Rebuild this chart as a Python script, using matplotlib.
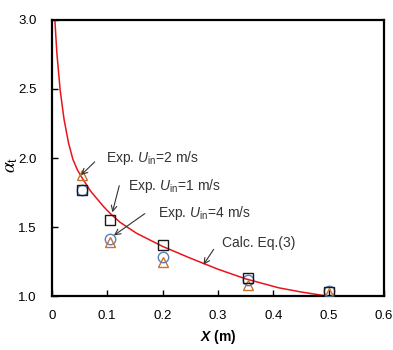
import matplotlib
matplotlib.use("Agg")
import matplotlib.pyplot as plt

plt.rcParams['font.family'] = ['Liberation Sans', 'DejaVu Sans']
plt.rcParams['mathtext.fontset'] = 'custom'
plt.rcParams['mathtext.rm'] = 'Liberation Sans'
plt.rcParams['mathtext.it'] = 'Liberation Sans:italic'
plt.rcParams['mathtext.bf'] = 'Liberation Sans:bold'
plt.rcParams['mathtext.bfit'] = 'Liberation Sans:bold:italic'

# === data ===
x_exp = [0.054, 0.105, 0.2, 0.355, 0.5]
a_u1 = [1.77, 1.55, 1.37, 1.13, 1.03]   # squares, Uin=1
a_u2 = [1.88, 1.39, 1.25, 1.08, 1.02]   # triangles, Uin=2
a_u4 = [1.77, 1.41, 1.28, 1.12, 1.04]   # circles, Uin=4

# Eq.(3) curve, points
x_calc = [0.0054, 0.009, 0.015, 0.022, 0.030, 0.038, 0.046, 0.054, 0.070, 0.093,
          0.105, 0.123, 0.153, 0.20, 0.25, 0.30, 0.35, 0.41, 0.45, 0.49, 0.50]
a_calc = [3.0, 2.76, 2.49, 2.28, 2.11, 1.99, 1.915, 1.86, 1.76, 1.65,
          1.60, 1.535, 1.455, 1.36, 1.275, 1.195, 1.125, 1.06, 1.03, 1.005, 1.0]

fig = plt.figure(figsize=(3.93, 3.5), dpi=100)
ax = fig.add_axes([0.132, 0.154, 0.845, 0.789])

ax.plot(x_calc, a_calc, color="#e8141b", lw=1.1, zorder=2)
ax.plot(x_exp, a_u2, ls="none", marker="^", ms=7.5, mfc="none", mec="#c8742c", mew=1.0, zorder=3)
ax.plot(x_exp, a_u4, ls="none", marker="o", ms=7.5, mfc="none", mec="#5a7fb8", mew=1.0, zorder=3)
ax.plot(x_exp, a_u1, ls="none", marker="s", ms=7.5, mfc="none", mec="#1a1a1a", mew=1.0, zorder=4)

ax.set_xlim(0, 0.6)
ax.set_ylim(1.0, 3.0)
ax.set_xticks([0, 0.1, 0.2, 0.3, 0.4, 0.5, 0.6])
ax.set_xticklabels(["0", "0.1", "0.2", "0.3", "0.4", "0.5", "0.6"])
ax.set_yticks([1.0, 1.5, 2.0, 2.5, 3.0])
ax.set_yticklabels(["1.0", "1.5", "2.0", "2.5", "3.0"])
ax.tick_params(direction="in", length=4, width=1, labelsize=9.5)
ax.tick_params(axis="x", pad=10)
ax.tick_params(axis="y", pad=11)
for s in ax.spines.values():
    s.set_linewidth(1.6)

ax.set_xlabel(r"$\boldsymbol{X}$ (m)", fontsize=10, fontweight="bold", labelpad=4)
ax.set_ylabel(r"$\alpha_\mathrm{t}$", fontsize=14, math_fontfamily="stix")
ax.yaxis.set_label_coords(-0.095, 0.475)

# labels and arrows
txt = dict(fontsize=10, color="#333333", va="center")
arrow = dict(arrowstyle="->", color="#333333", lw=0.8)
ax.text(0.0976, 2.0, r"Exp. $U_\mathrm{in}$=2 m/s", **txt)
ax.annotate("", xy=(0.049, 1.862), xytext=(0.081, 1.986), arrowprops=arrow)
ax.text(0.137, 1.80, r"Exp. $U_\mathrm{in}$=1 m/s", **txt)
ax.annotate("", xy=(0.108, 1.587), xytext=(0.123, 1.819), arrowprops=arrow)
ax.text(0.192, 1.60, r"Exp. $U_\mathrm{in}$=4 m/s", **txt)
ax.annotate("", xy=(0.108, 1.428), xytext=(0.172, 1.609), arrowprops=arrow)
ax.text(0.307, 1.384, "Calc. Eq.(3)", **txt)
ax.annotate("", xy=(0.271, 1.21), xytext=(0.295, 1.355), arrowprops=arrow)

fig.savefig("out.png", dpi=100)
